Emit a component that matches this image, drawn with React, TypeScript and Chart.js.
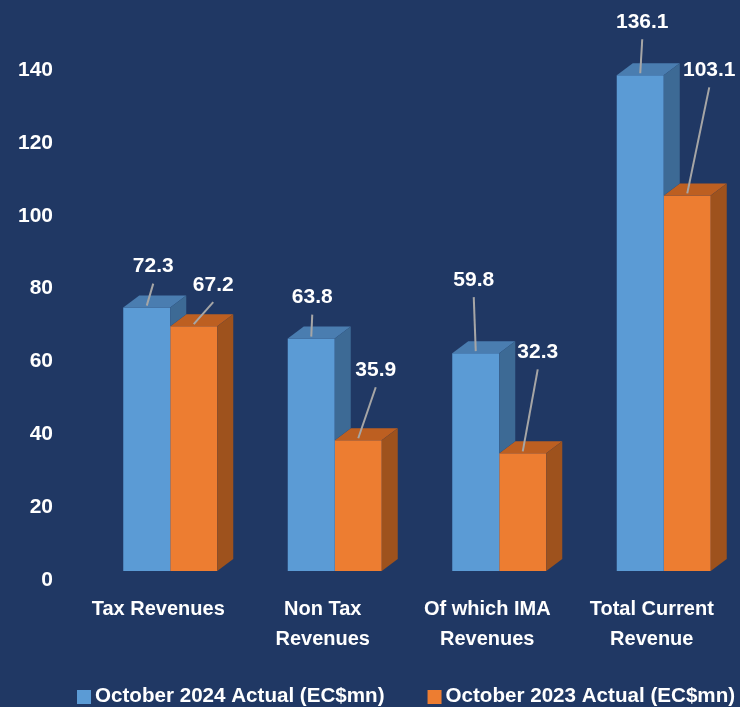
import React, { useEffect, useRef } from "react";
import { Chart, registerables } from "chart.js";

Chart.register(...registerables);

// ---- data ----
const categories: string[][] = [
  ["Tax Revenues"],
  ["Non Tax", "Revenues"],
  ["Of which IMA", "Revenues"],
  ["Total Current", "Revenue"],
];
const seriesNames = ["October 2024 Actual (EC$mn)", "October 2023 Actual (EC$mn)"];
const oct2024 = [72.3, 63.8, 59.8, 136.1];
const oct2023 = [67.2, 35.9, 32.3, 103.1];
const yMin = 0;
const yMax = 140;
const yStep = 20;

// ---- styles / layout ----
const BG = "#203864";
const FONT = "'Liberation Sans', Arial, sans-serif";
const FRONT = ["#5b9bd5", "#ed7d31"];
const TOP = ["#4a7db0", "#bd5f21"];
const SIDE = ["#3d6a95", "#9e521d"];
const SHIFT_X = 12; // front face offset relative to axis (3D look)
const SHIFT_Y = -9;
const DEPTH_X = 16;
const DEPTH_Y = 12;
// label position relative to the bar's front-top centre, per series / category
const LABEL_OFFSETS: number[][][] = [
  [[6.5, -41], [1, -41], [-2, -73], [2, -53]],
  [[19.5, -41], [17.5, -70], [15, -101], [22, -125]],
];

const threeD = {
  id: "threeD",
  beforeDatasetsDraw(chart: any) {
    chart.ctx.save();
    chart.ctx.translate(SHIFT_X, SHIFT_Y);
  },
  afterDatasetDraw(chart: any, args: any) {
    const ctx = chart.ctx;
    const d = args.index;
    const meta = args.meta;
    const nextMeta = d + 1 < chart.data.datasets.length ? chart.getDatasetMeta(d + 1) : null;
    meta.data.forEach((el: any, i: number) => {
      const { x, y, base, width } = el.getProps(["x", "y", "base", "width"], true);
      const l = x - width / 2;
      const r = x + width / 2;
      // top face
      ctx.fillStyle = TOP[d];
      ctx.beginPath();
      ctx.moveTo(l, y);
      ctx.lineTo(l + DEPTH_X, y - DEPTH_Y);
      ctx.lineTo(r + DEPTH_X, y - DEPTH_Y);
      ctx.lineTo(r, y);
      ctx.closePath();
      ctx.fill();
      // side face (only the part not hidden by the neighbouring bar)
      let bottom = base;
      if (nextMeta && nextMeta.data[i]) {
        bottom = Math.min(base, nextMeta.data[i].getProps(["y"], true).y);
      }
      if (bottom > y) {
        ctx.fillStyle = SIDE[d];
        ctx.beginPath();
        ctx.moveTo(r, y);
        ctx.lineTo(r + DEPTH_X, y - DEPTH_Y);
        ctx.lineTo(r + DEPTH_X, bottom - DEPTH_Y);
        ctx.lineTo(r, bottom);
        ctx.closePath();
        ctx.fill();
      }
    });
  },
  afterDatasetsDraw(chart: any) {
    chart.ctx.restore();
  },
  afterDraw(chart: any) {
    const ctx = chart.ctx;
    ctx.save();
    // data labels with leader lines
    chart.data.datasets.forEach((ds: any, d: number) => {
      const meta = chart.getDatasetMeta(d);
      meta.data.forEach((el: any, i: number) => {
        const bx = el.x + SHIFT_X;
        const by = el.y + SHIFT_Y;
        const off = LABEL_OFFSETS[d][i];
        const lx = bx + off[0];
        const ly = by + off[1];
        ctx.strokeStyle = "#a6a6a6";
        ctx.lineWidth = 2;
        ctx.beginPath();
        ctx.moveTo(lx, ly + 17);
        ctx.lineTo(bx, by - 2);
        ctx.stroke();
        ctx.fillStyle = "#ffffff";
        ctx.font = `bold 21px ${FONT}`;
        ctx.textAlign = "center";
        ctx.textBaseline = "middle";
        ctx.fillText(Number(ds.data[i]).toFixed(1), lx, ly);
      });
    });
    // legend
    ctx.font = `bold 20.6px ${FONT}`;
    ctx.textAlign = "left";
    ctx.textBaseline = "middle";
    let x = 77;
    const yc = 696;
    chart.data.datasets.forEach((ds: any, d: number) => {
      ctx.fillStyle = FRONT[d];
      ctx.fillRect(x, yc - 6, 14, 14);
      x += 18;
      ctx.fillStyle = "#ffffff";
      ctx.fillText(ds.label, x, yc);
      x += ctx.measureText(ds.label).width + 43;
    });
    ctx.restore();
  },
};

export default function App() {
  const ref = useRef<HTMLCanvasElement>(null);
  useEffect(() => {
    const canvas = ref.current;
    if (!canvas) return;
    const chart = new Chart(canvas, {
      type: "bar",
      data: {
        labels: categories,
        datasets: [
          {
            label: seriesNames[0],
            data: oct2024,
            backgroundColor: FRONT[0],
            borderWidth: 0,
            categoryPercentage: 0.5714,
            barPercentage: 1,
            clip: false,
          },
          {
            label: seriesNames[1],
            data: oct2023,
            backgroundColor: FRONT[1],
            borderWidth: 0,
            categoryPercentage: 0.5714,
            barPercentage: 1,
            clip: false,
          },
        ],
      },
      options: {
        animation: false,
        responsive: false,
        layout: { padding: { top: 70, right: 6, left: 0, bottom: 0 } },
        plugins: {
          legend: { display: false },
          tooltip: { enabled: false },
        },
        scales: {
          x: {
            grid: { display: false, drawTicks: false },
            border: { display: false },
            ticks: {
              color: "#ffffff",
              font: { family: FONT, size: 20, weight: "bold", lineHeight: 1.5 },
              padding: 14,
              maxRotation: 0,
              autoSkip: false,
            },
            afterFit: (s: any) => {
              s.height = 127;
            },
          },
          y: {
            min: yMin,
            max: yMax,
            grid: { display: false, drawTicks: false },
            border: { display: false },
            ticks: {
              stepSize: yStep,
              color: "#ffffff",
              font: { family: FONT, size: 21, weight: "bold" },
              padding: 23,
            },
            afterFit: (s: any) => {
              s.width = 76;
            },
          },
        },
      },
      plugins: [threeD],
    } as any);
    return () => chart.destroy();
  }, []);
  return (
    <div style={{ position: "fixed", left: 0, top: 0, width: 740, height: 707, background: BG, overflow: "hidden" }}>
      <canvas ref={ref} width={740} height={707} style={{ display: "block" }} />
    </div>
  );
}
